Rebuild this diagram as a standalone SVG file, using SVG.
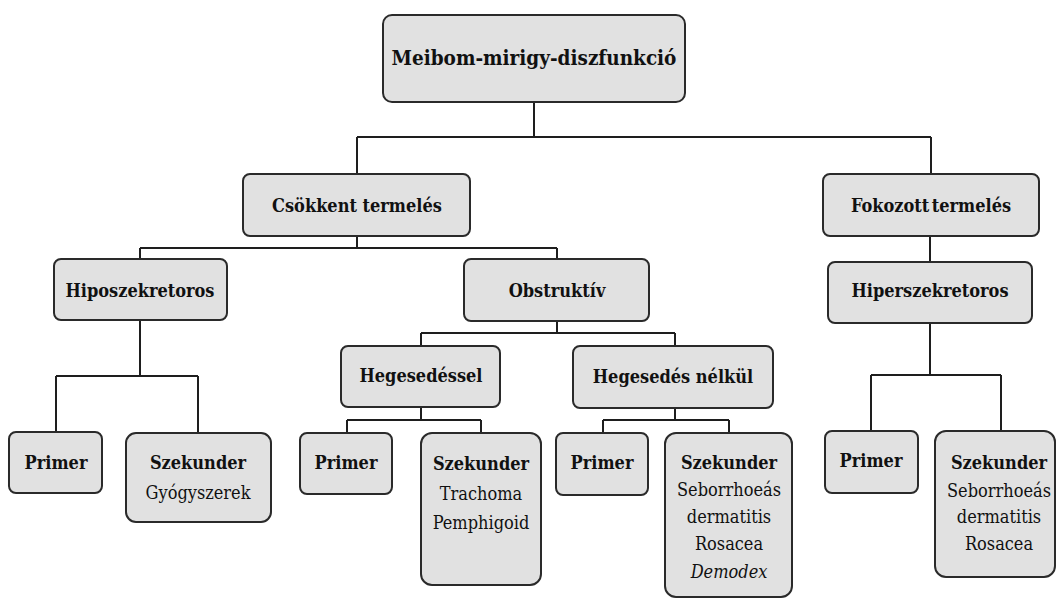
<svg xmlns="http://www.w3.org/2000/svg" width="1056" height="599" viewBox="0 0 1056 599">
<style>
.box{fill:#e1e1e1;stroke:#2a2a2a;stroke-width:2}
.ln{fill:none;stroke:#1e1e1e;stroke-width:2}
text{font-family:"DejaVu Serif Condensed","DejaVu Serif",serif;font-stretch:condensed;font-size:18px;fill:#111;text-anchor:middle}
.b{font-weight:bold}
.t{font-size:20.5px}
</style>
<rect width="1056" height="599" fill="#fff"/>
<g id="connectors" class="ln">
<path d="M534,102V137M357,137H931M357,137V174M931,137V174"/>
<path d="M357,236V248M140,248H557M140,248V259M557,248V259"/>
<path d="M140,320V376M56,376H198M56,376V432M198,376V433"/>
<path d="M557,321V333M421,333H675M421,333V346M675,333V346"/>
<path d="M421,407V420M347,420H481M347,420V433M481,420V433"/>
<path d="M675,408V420M603,420H729M603,420V433M729,420V433"/>
<path d="M930,236V262M930,323V375M871,375H1001M871,375V431M1001,375V431"/>
</g>
<g id="n-root"><rect class="box" x="383" y="15" width="302" height="87" rx="9"/><text class="b t" x="534" y="65">Meibom-mirigy-diszfunkció</text></g>
<g id="n-csokkent"><rect class="box" x="243" y="174" width="227" height="62" rx="7"/><text class="b" x="357" y="212">Csökkent termelés</text></g>
<g id="n-fokozott"><rect class="box" x="823" y="174" width="216" height="62" rx="7"/><text class="b" x="931" y="212" word-spacing="-3">Fokozott termelés</text></g>
<g id="n-hipo"><rect class="box" x="54" y="259" width="173" height="61" rx="7"/><text class="b" x="140" y="297">Hiposzekretoros</text></g>
<g id="n-obstr"><rect class="box" x="464" y="259" width="185" height="62" rx="7"/><text class="b" x="557" y="297">Obstruktív</text></g>
<g id="n-hiper"><rect class="box" x="828" y="262" width="204" height="61" rx="7"/><text class="b" x="930" y="297">Hiperszekretoros</text></g>
<g id="n-heg"><rect class="box" x="341" y="346" width="159" height="61" rx="7"/><text class="b" x="421" y="382">Hegesedéssel</text></g>
<g id="n-hegn"><rect class="box" x="573" y="346" width="200" height="62" rx="7"/><text class="b" x="673" y="383">Hegesedés nélkül</text></g>
<g id="n-primer1"><rect class="box" x="9" y="432" width="93" height="61" rx="7"/><text class="b" x="56" y="469">Primer</text></g>
<g id="n-szek1"><rect class="box" x="126" y="433" width="145" height="89" rx="10"/><text class="b" x="198" y="469">Szekunder</text><text x="198" y="499">Gyógyszerek</text></g>
<g id="n-primer2"><rect class="box" x="300" y="433" width="92" height="61" rx="7"/><text class="b" x="346" y="469">Primer</text></g>
<g id="n-szek2"><rect class="box" x="421" y="433" width="120" height="152" rx="11"/><text class="b" x="481" y="470">Szekunder</text><text x="481" y="500">Trachoma</text><text x="481" y="529">Pemphigoid</text></g>
<g id="n-primer3"><rect class="box" x="556" y="433" width="92" height="62" rx="7"/><text class="b" x="602" y="469">Primer</text></g>
<g id="n-szek3"><rect class="box" x="665" y="433" width="127" height="164" rx="11"/><text class="b" x="729" y="469">Szekunder</text><text x="729" y="496">Seborrhoeás</text><text x="729" y="523">dermatitis</text><text x="729" y="550">Rosacea</text><text x="729" y="578" style="font-style:italic">Demodex</text></g>
<g id="n-primer4"><rect class="box" x="825" y="431" width="93" height="62" rx="7"/><text class="b" x="871" y="467">Primer</text></g>
<g id="n-szek4"><rect class="box" x="935" y="431" width="120" height="146" rx="11"/><text class="b" x="999" y="469">Szekunder</text><text x="999" y="497">Seborrhoeás</text><text x="999" y="523">dermatitis</text><text x="999" y="550">Rosacea</text></g>
</svg>
